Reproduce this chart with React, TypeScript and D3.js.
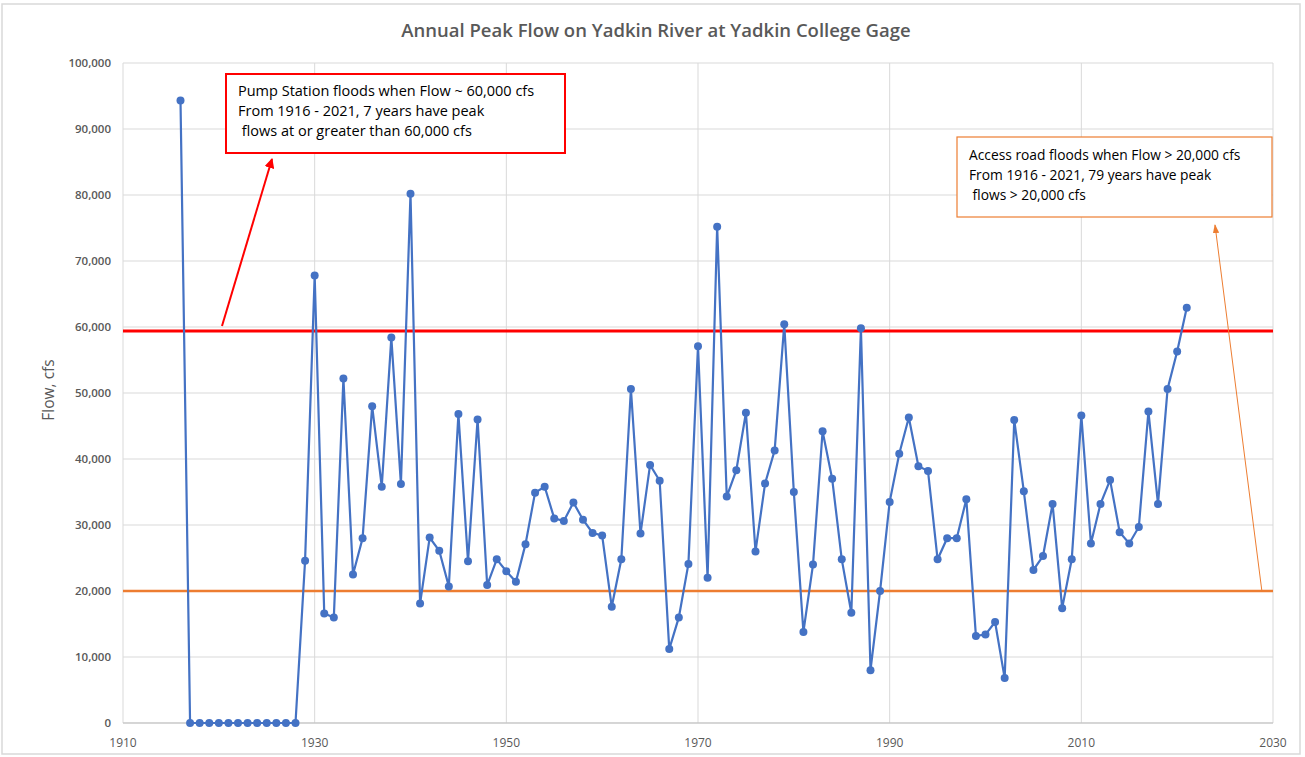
import React from "react";
import * as d3 from "d3";

const startYear = 1916;
const flows: number[] = [
  94300,
  0, 0, 0, 0, 0, 0, 0, 0, 0, 0, 0, 0,
  24600, 67800, 16600, 16000, 52200, 22500, 28000, 48000, 35800, 58400, 36200,
  80200, 18100, 28100, 26100, 20700, 46800, 24500, 46000, 20900, 24800,
  23000, 21400, 27100, 34900, 35800, 31000, 30600, 33400, 30800, 28800,
  28400, 17600, 24800, 50600, 28700, 39100, 36700, 11200, 16000, 24100,
  57100, 22000, 75200, 34300, 38300, 47000, 26000, 36300, 41300, 60400,
  35000, 13800, 24000, 44200, 37000, 24800, 16700, 59800, 8000, 20000,
  33500, 40800, 46300, 38900, 38200, 24800, 28000, 28000, 33900, 13200,
  13400, 15300, 6800, 45900, 35100, 23200, 25300, 33200, 17400, 24800,
  46600, 27200, 33200, 36800, 28900, 27200, 29700, 47200, 33200, 50600,
  56300, 62900,
];
const years: number[] = flows.map((_, i) => startYear + i);
const xTicks: number[] = [1910, 1930, 1950, 1970, 1990, 2010, 2030];
const yTicks: number[] = [0, 10000, 20000, 30000, 40000, 50000, 60000, 70000, 80000, 90000, 100000];
const pumpThreshold = 59400;
const roadThreshold = 20000;
const title = "Annual Peak Flow on Yadkin River at Yadkin College Gage";
const redNote = [
  "Pump Station floods when Flow ~ 60,000 cfs",
  "From 1916 - 2021, 7 years have peak",
  " flows at or greater than 60,000 cfs",
];
const orangeNote = [
  "Access road floods when Flow > 20,000 cfs",
  "From 1916 - 2021, 79 years have peak",
  " flows > 20,000 cfs",
];

export default function App() {
  const W = 1305, H = 757;
  const left = 123, right = 1273, top = 63, bottom = 723;
  const x = d3.scaleLinear().domain([1910, 2030]).range([left, right]);
  const y = d3.scaleLinear().domain([0, 100000]).range([bottom, top]);
  const pts = years.map((yr, i) => [x(yr), y(flows[i])] as [number, number]);
  const line = d3.line()(pts) || "";
  const font = "'Open Sans', 'Liberation Sans', sans-serif";
  const fmt = d3.format(",");
  return (
    <svg width={W} height={H} style={{ position: "absolute", left: 0, top: 0, background: "#fff" }} fontFamily={font}>
      <defs>
        <marker id="redArrow" viewBox="0 0 10 10" refX="9" refY="5" markerWidth="5" markerHeight="5" orient="auto">
          <path d="M0,0 L10,5 L0,10 z" fill="#ff0000" />
        </marker>
        <marker id="orangeArrow" viewBox="0 0 10 10" refX="9" refY="5" markerWidth="9" markerHeight="9" orient="auto">
          <path d="M0,1.5 L10,5 L0,8.5 z" fill="#ed7d31" />
        </marker>
      </defs>
      <rect x={2} y={4} width={1298} height={750} fill="#fff" stroke="#d9d9d9" strokeWidth={1.5} />
      <text x={656} y={37} textAnchor="middle" fontSize={18.5} fontWeight={600} fill="#595959">{title}</text>
      {yTicks.map((t) => (
        <g key={"y" + t}>
          <line x1={left} x2={right} y1={y(t)} y2={y(t)} stroke="#d9d9d9" strokeWidth={1} />
          <text x={111} y={y(t) + 4} textAnchor="end" fontSize={11.5} fontWeight={600} fill="#595959">{fmt(t)}</text>
        </g>
      ))}
      {xTicks.map((t) => (
        <g key={"x" + t}>
          <line x1={x(t)} x2={x(t)} y1={top} y2={bottom} stroke="#d9d9d9" strokeWidth={1} />
          <text x={x(t)} y={747} textAnchor="middle" fontSize={12} fill="#595959">{t}</text>
        </g>
      ))}
      <line x1={left} x2={right} y1={bottom} y2={bottom} stroke="#bfbfbf" strokeWidth={1} />
      <text transform={`translate(54,${(top + bottom) / 2 - 3}) rotate(-90)`} textAnchor="middle" fontSize={15.5} fill="#595959">Flow, cfs</text>
      <line x1={left} x2={right} y1={y(roadThreshold)} y2={y(roadThreshold)} stroke="#ed7d31" strokeWidth={2.5} />
      <line x1={left} x2={right} y1={y(pumpThreshold)} y2={y(pumpThreshold)} stroke="#ff0000" strokeWidth={3} />
      <path d={line} fill="none" stroke="#4472c4" strokeWidth={2.2} />
      {pts.map((p, i) => (
        <circle key={i} cx={p[0]} cy={p[1]} r={4} fill="#4472c4" />
      ))}
      <line x1={222} y1={326} x2={272} y2={159} stroke="#ff0000" strokeWidth={2} markerEnd="url(#redArrow)" />
      <line x1={1262} y1={592} x2={1215} y2={225} stroke="#ed7d31" strokeWidth={1} markerEnd="url(#orangeArrow)" />
      <rect x={226} y={74} width={339} height={79} fill="#fff" stroke="#ff0000" strokeWidth={2} />
      {redNote.map((s, i) => (
        <text key={"r" + i} x={238} y={96 + i * 20} fontSize={14.5} fill="#000" xmlSpace="preserve" style={{ whiteSpace: "pre" }}>{s}</text>
      ))}
      <rect x={957} y={137} width={315} height={80} fill="#fff" stroke="#ed7d31" strokeWidth={1.2} />
      {orangeNote.map((s, i) => (
        <text key={"o" + i} x={969} y={160 + i * 20} fontSize={13.8} fill="#000" xmlSpace="preserve" style={{ whiteSpace: "pre" }}>{s}</text>
      ))}
    </svg>
  );
}
